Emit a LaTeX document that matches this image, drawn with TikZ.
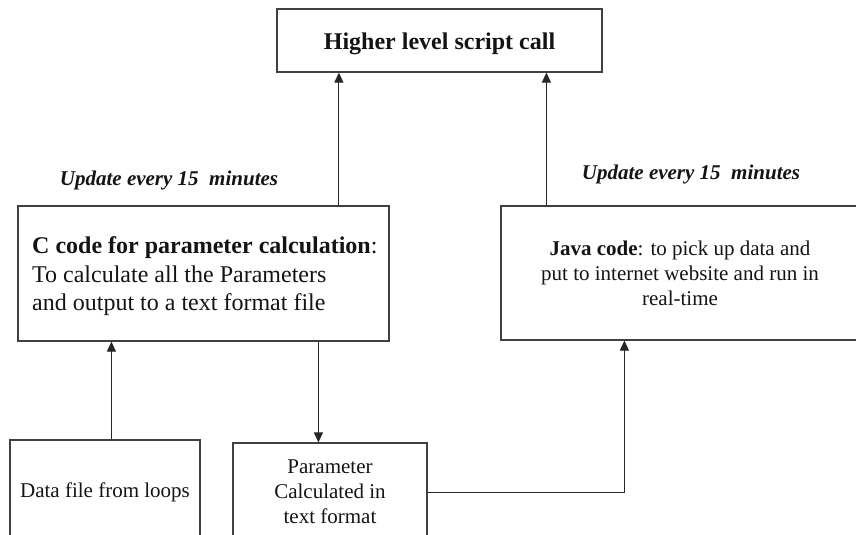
\documentclass[tikz,border=0pt]{standalone}
\usepackage{fontspec}
\setmainfont{Liberation Serif}
\usetikzlibrary{arrows.meta}

\tikzset{
  box/.style={draw=black!75, line width=1.2pt, rectangle, inner sep=0pt},
  arr/.style={draw=black!85, line width=1pt, -{Triangle[length=10pt,width=9pt]}},
  txtbig/.style={inner sep=0pt, font=\fontsize{24}{28.3}\selectfont, text=black!92},
  txtmid/.style={inner sep=0pt, font=\fontsize{21}{25}\selectfont, text=black!92},
  note/.style={inner sep=0pt, font=\fontsize{21}{25}\selectfont\bfseries\itshape, text=black!92, anchor=base}
}

\begin{document}
\begin{tikzpicture}[x=1pt, y=-1pt]
  % page area
  \clip (0,0) rectangle (856,535);
  \fill[white] (0,0) rectangle (856,535);

  % boxes
  \node[box, minimum width=325pt, minimum height=63pt] (top) at (439.5,40.5) {};
  \node[box, minimum width=371pt, minimum height=135pt] (ccode) at (203.5,273.5) {};
  \node[box, minimum width=369pt, minimum height=134pt] (java) at (685.5,273) {};
  \node[box, minimum width=190pt, minimum height=120pt] (data) at (105,500) {};
  \node[box, minimum width=194pt, minimum height=117pt] (param) at (330,501.5) {};

  % box texts
  \node[txtbig, anchor=base, font=\fontsize{24}{28.3}\selectfont\bfseries] (toptxt) at (439.5,50) {Higher level script call};
  \node[txtbig, anchor=north west, align=left] (ctxt) at (32,236.8)
    {\textbf{C code for parameter calculation}:\\To calculate all the Parameters\\and output to a text format file};
  \node[txtmid, anchor=north, align=center] (jtxt) at (680,240.8)
    {\textbf{Java code}: to pick up data and\\put to internet website and run in\\real-time};
  \node[txtmid, anchor=base] (dtxt) at (105,497) {Data file from loops};
  \node[txtmid, anchor=north, align=center] (ptxt) at (330,459.1)
    {Parameter\\Calculated in\\text format};

  % update notes
  \node[note] (n1) at (169,185) {Update every 15~\ minutes};
  \node[note] (n2) at (691,179) {Update every 15~\ minutes};

  % connectors
  \coordinate (a1) at ([xshift=62.5pt]top.south west);
  \draw[arr] (a1 |- ccode.north) -- (a1);
  \coordinate (a2) at ([xshift=46pt]java.north west);
  \draw[arr] (a2) -- (a2 |- top.south);
  \coordinate (a3) at ([xshift=102pt]data.north west);
  \draw[arr] (a3) -- (a3 |- ccode.south);
  \coordinate (a4) at ([xshift=301pt]ccode.south west);
  \draw[arr] (a4) -- (a4 |- param.north);
  \coordinate (a5) at ([yshift=9.5pt]param.east);
  \coordinate (a6) at ([xshift=124pt]java.south west);
  \draw[arr] (a5) -| (a6);
\end{tikzpicture}
\end{document}
